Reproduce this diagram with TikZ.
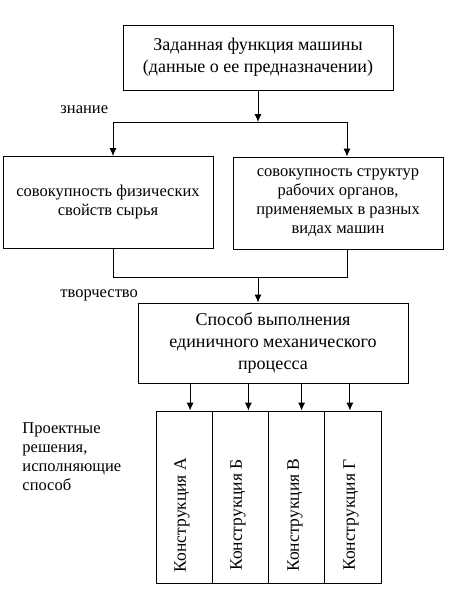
\documentclass[tikz,border=0pt]{standalone}
\usepackage{fontspec}
\setmainfont{Liberation Serif}
\usetikzlibrary{shapes,arrows.meta,calc}
\tikzstyle{block} = [draw, rectangle, align=center, inner sep=0pt,
    font=\fontsize{18}{22}\selectfont]
\tikzstyle{small block} = [block, font=\fontsize{16.5}{19}\selectfont]
\tikzstyle{column} = [draw, rectangle, minimum width=56.25pt, minimum height=172pt]
\tikzstyle{line} = [draw, -{Latex[length=8pt,width=7pt]}]
\tikzstyle{note} = [align=left, inner sep=0pt, font=\fontsize{16.5}{19}\selectfont]

\begin{document}
\begin{tikzpicture}[x=1pt, y=-1pt, line width=0.9pt]
\useasboundingbox (0,0) rectangle (450,597);

\node[block, minimum width=270pt, minimum height=65pt] (task) at (258,57.5)
  {Заданная функция машины\\(данные о ее предназначении)};
\node[small block, minimum width=210pt, minimum height=92pt] (phys) at (108,202.5)
  {совокупность физических\\свойств сырья};
\node[small block, minimum width=210pt, minimum height=92pt] (struct) at (338,203)
  {совокупность структур\\рабочих органов,\\применяемых в разных\\видах машин};
\node[block, minimum width=270pt, minimum height=80pt] (way) at (273,343)
  {Способ выполнения\\единичного механического\\процесса};

\node[column] (k1) at (184.1,497) {};
\node[column] (k2) at (240.4,497) {};
\node[column] (k3) at (296.6,497) {};
\node[column] (k4) at (352.9,497) {};
\node[block, draw=none, rotate=90, font=\fontsize{17.5}{20}\selectfont] at (182,515) {Конструкция А};
\node[block, draw=none, rotate=90, font=\fontsize{17.5}{20}\selectfont] at (238,515) {Конструкция Б};
\node[block, draw=none, rotate=90, font=\fontsize{17.5}{20}\selectfont] at (295,515) {Конструкция В};
\node[block, draw=none, rotate=90, font=\fontsize{17.5}{20}\selectfont] at (351,515) {Конструкция Г};

\node[note, anchor=west] (know) at (60,110) {знание};
\node[note, anchor=west] (art) at (60,295) {творчество};
\node[note, anchor=north west] (proj) at (22,422)
  {Проектные\\решения,\\исполняющие\\способ};

% split
\coordinate (kl) at (113,122);
\coordinate (kr) at (347,122);
\draw[line] (task) -- (task |- kl);
\draw (kl) -- (kr);
\draw[line] (kl) -- (kl |- phys.north);
\draw[line] (kr) -- (kr |- struct.north);

% join
\coordinate (jl) at (113,277);
\coordinate (jr) at (347,277);
\coordinate (jm) at (258,277);
\draw (jl |- phys.south) -- (jl) -- (jr) -- (jr |- struct.south);
\draw[line] (jm) -- (jm |- way.north);

\foreach \n/\d in {1/6,2/8,3/5,4/-3} {
  \coordinate (a\n) at ($(k\n.north)+(\d,0)$);
  \draw[line] (a\n |- way.south) -- (a\n);
}
\end{tikzpicture}
\end{document}
